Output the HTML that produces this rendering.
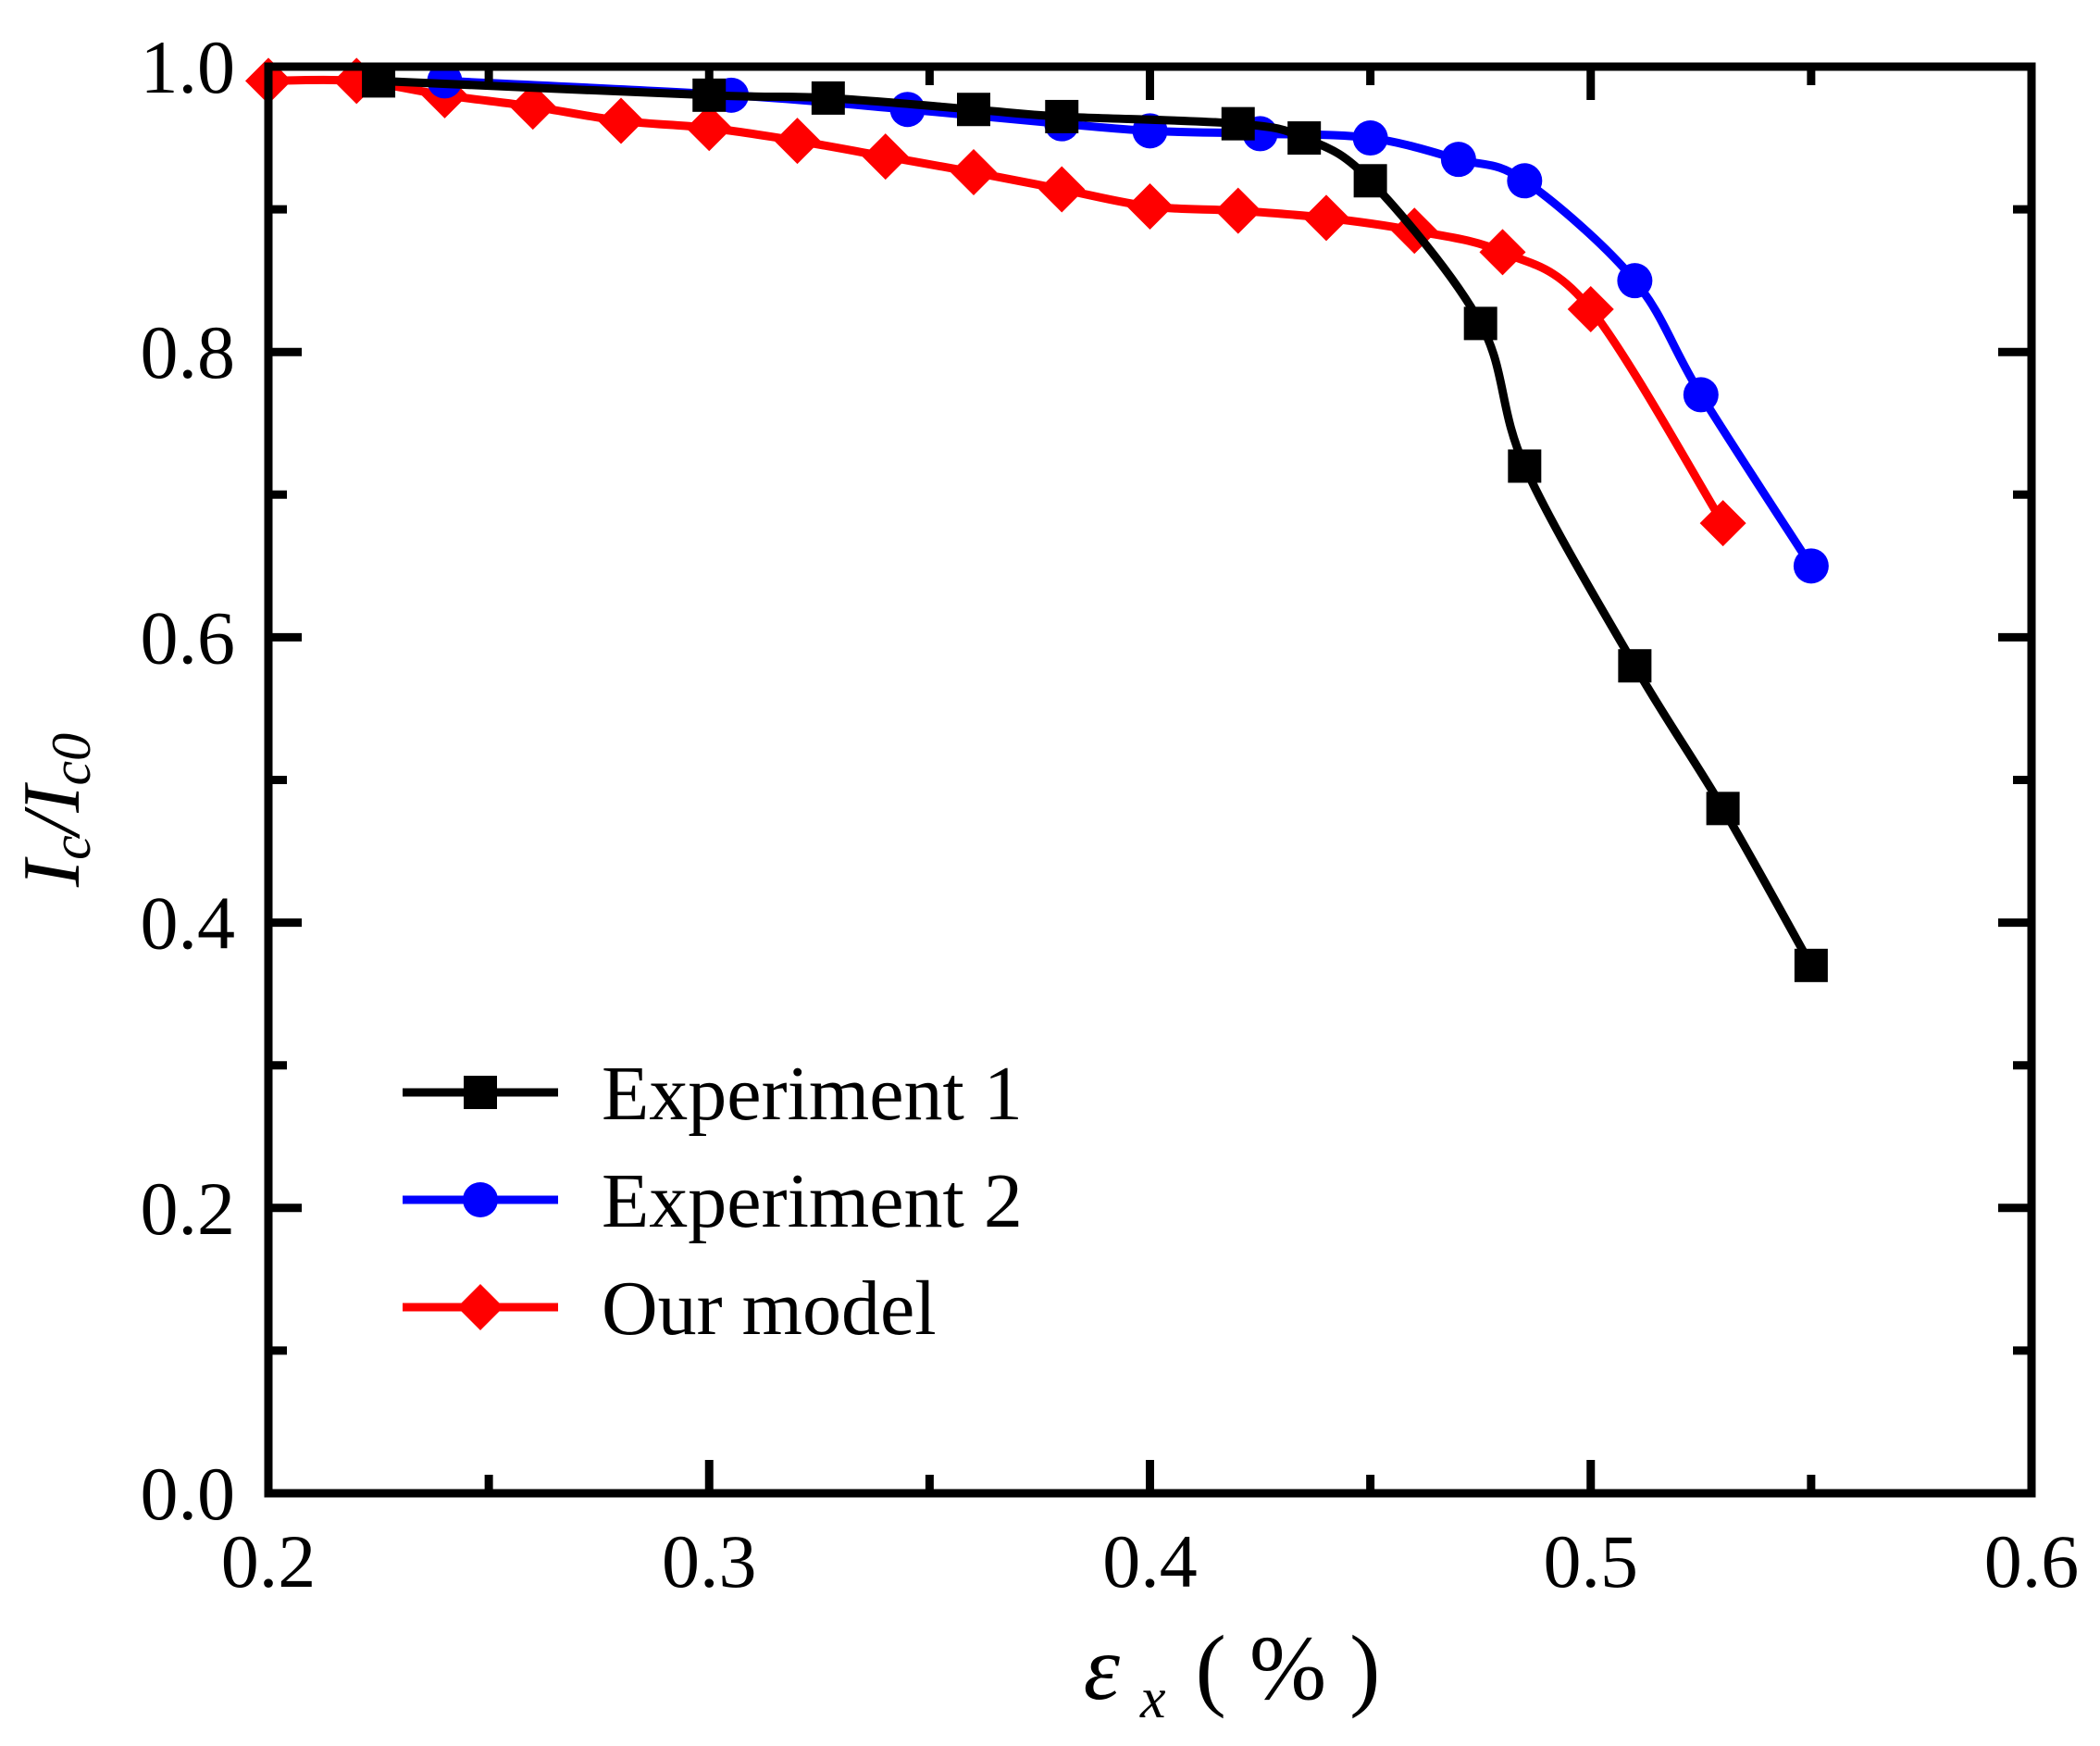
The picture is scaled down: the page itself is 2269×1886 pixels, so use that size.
<!DOCTYPE html>
<html><head><meta charset="utf-8"><style>
html,body{margin:0;padding:0;background:#fff;}
svg text{font-family:"Liberation Serif",serif;fill:#000;}
</style></head><body>
<svg id="chart" width="2269" height="1881" viewBox="0 0 2269 1881" xmlns="http://www.w3.org/2000/svg">
<g id="series"></g>
<g id="axes"></g>
<g id="legend"></g>
<text transform="translate(85,875) rotate(-90)" font-size="88" text-anchor="middle" font-style="italic">I<tspan font-size="60" dy="12">c</tspan><tspan dy="-12">/I</tspan><tspan font-size="60" dy="12">c0</tspan></text>
<text x="1331" y="1835" font-size="100" text-anchor="middle"><tspan font-style="italic">ε</tspan><tspan font-style="italic" font-size="62" dx="22" dy="20">x</tspan><tspan dx="32" dy="-20">( %  )</tspan></text>
</svg>
<script>
const exp1X=[0.225,0.30,0.327,0.36,0.38,0.42,0.435,0.45,0.475,0.485,0.51,0.53,0.55];
const exp1Y=[0.99,0.98,0.978,0.97,0.965,0.96,0.95,0.92,0.82,0.72,0.58,0.48,0.37];
const exp2X=[0.24,0.305,0.345,0.38,0.40,0.425,0.45,0.47,0.485,0.51,0.525,0.55];
const exp2Y=[0.99,0.98,0.97,0.96,0.955,0.953,0.95,0.935,0.92,0.85,0.77,0.65];
const modelX=[0.20,0.22,0.24,0.26,0.28,0.30,0.32,0.34,0.36,0.38,0.40,0.42,0.44,0.46,0.48,0.50,0.53];
const modelY=[0.99,0.99,0.98,0.972,0.962,0.957,0.948,0.937,0.926,0.914,0.902,0.899,0.894,0.885,0.87,0.83,0.68];
const xTicks=["0.2","0.3","0.4","0.5","0.6"];
const yTicks=["0.0","0.2","0.4","0.6","0.8","1.0"];

const L=290,R=2195,T=72,B=1613;
const xMin=0.2,xMax=0.6,yMin=0,yMax=1;
const sx=v=>L+(v-xMin)/(xMax-xMin)*(R-L);
const sy=v=>B-(v-yMin)/(yMax-yMin)*(B-T);
const NS="http://www.w3.org/2000/svg";
function mk(tag,attrs,parent){const e=document.createElementNS(NS,tag);for(const k in attrs)e.setAttribute(k,attrs[k]);parent.appendChild(e);return e;}
const axes=document.getElementById('axes'),ser=document.getElementById('series'),leg=document.getElementById('legend');

function smooth(pts){
  let d=`M${pts[0][0]},${pts[0][1]}`;
  for(let i=0;i<pts.length-1;i++){
    const p0=pts[Math.max(i-1,0)],p1=pts[i],p2=pts[i+1],p3=pts[Math.min(i+2,pts.length-1)];
    const c1=[p1[0]+(p2[0]-p0[0])/6,p1[1]+(p2[1]-p0[1])/6];
    const c2=[p2[0]-(p3[0]-p1[0])/6,p2[1]-(p3[1]-p1[1])/6];
    d+=` C${c1[0]},${c1[1]} ${c2[0]},${c2[1]} ${p2[0]},${p2[1]}`;
  }
  return d;
}
function marker(kind,x,y,color,g){
  let m;
  if(kind==='square'){m=mk('rect',{x:x-18,y:y-18,width:36,height:36,fill:color},g);}
  else if(kind==='circle'){m=mk('circle',{cx:x,cy:y,r:19,fill:color},g);}
  else{m=mk('polygon',{points:`${x},${y-25} ${x+25},${y} ${x},${y+25} ${x-25},${y}`,fill:color},g);}
  return m;
}
function drawSeries(xs,ys,color,kind,name){
  const g=mk('g',{},ser);
  
  
  const pts=xs.map((v,i)=>[sx(v),sy(ys[i])]);
  const p=mk('path',{d:smooth(pts),fill:'none',stroke:color,'stroke-width':9},g);
  
  
  pts.forEach(q=>{const m=marker(kind,q[0],q[1],color,g);
    
    });
}
drawSeries(modelX,modelY,'#ff0000','diamond','our-model-series');
drawSeries(exp2X,exp2Y,'#0000ff','circle','experiment-2-series');
drawSeries(exp1X,exp1Y,'#000000','square','experiment-1-series');

const fr=mk('rect',{x:L,y:T,width:R-L,height:B-T,fill:'none',stroke:'#000','stroke-width':9},axes);


for(let i=0;i<=8;i++){const v=0.2+i*0.05,x=sx(v),len=i%2?20:36;
  mk('line',{x1:x,y1:B,x2:x,y2:B-len,stroke:'#000','stroke-width':9},axes);
  mk('line',{x1:x,y1:T,x2:x,y2:T+len,stroke:'#000','stroke-width':9},axes);}
for(let i=0;i<=10;i++){const v=i*0.1,y=sy(v),len=i%2?20:36;
  mk('line',{x1:L,y1:y,x2:L+len,y2:y,stroke:'#000','stroke-width':9},axes);
  mk('line',{x1:R,y1:y,x2:R-len,y2:y,stroke:'#000','stroke-width':9},axes);}
xTicks.forEach(t=>{const e=mk('text',{x:sx(parseFloat(t)),y:1714,'font-size':82,'text-anchor':'middle'},axes);e.textContent=t;
  
  });
yTicks.forEach(t=>{const e=mk('text',{x:254,y:sy(parseFloat(t))+28,'font-size':82,'text-anchor':'end'},axes);e.textContent=t;
  
  });

const items=[['Experiment 1','#000','square'],['Experiment 2','#0000ff','circle'],['Our model','#ff0000','diamond']];
items.forEach((it,i)=>{const y=1180+i*116;
  const g=mk('g',{},leg);
  
  
  mk('line',{x1:435,y1:y,x2:603,y2:y,stroke:it[1],'stroke-width':9},g);
  marker(it[2],519,y,it[1],g);
  const t=mk('text',{x:650,y:y+29,'font-size':84},g);t.textContent=it[0];});
</script>
</body></html>
